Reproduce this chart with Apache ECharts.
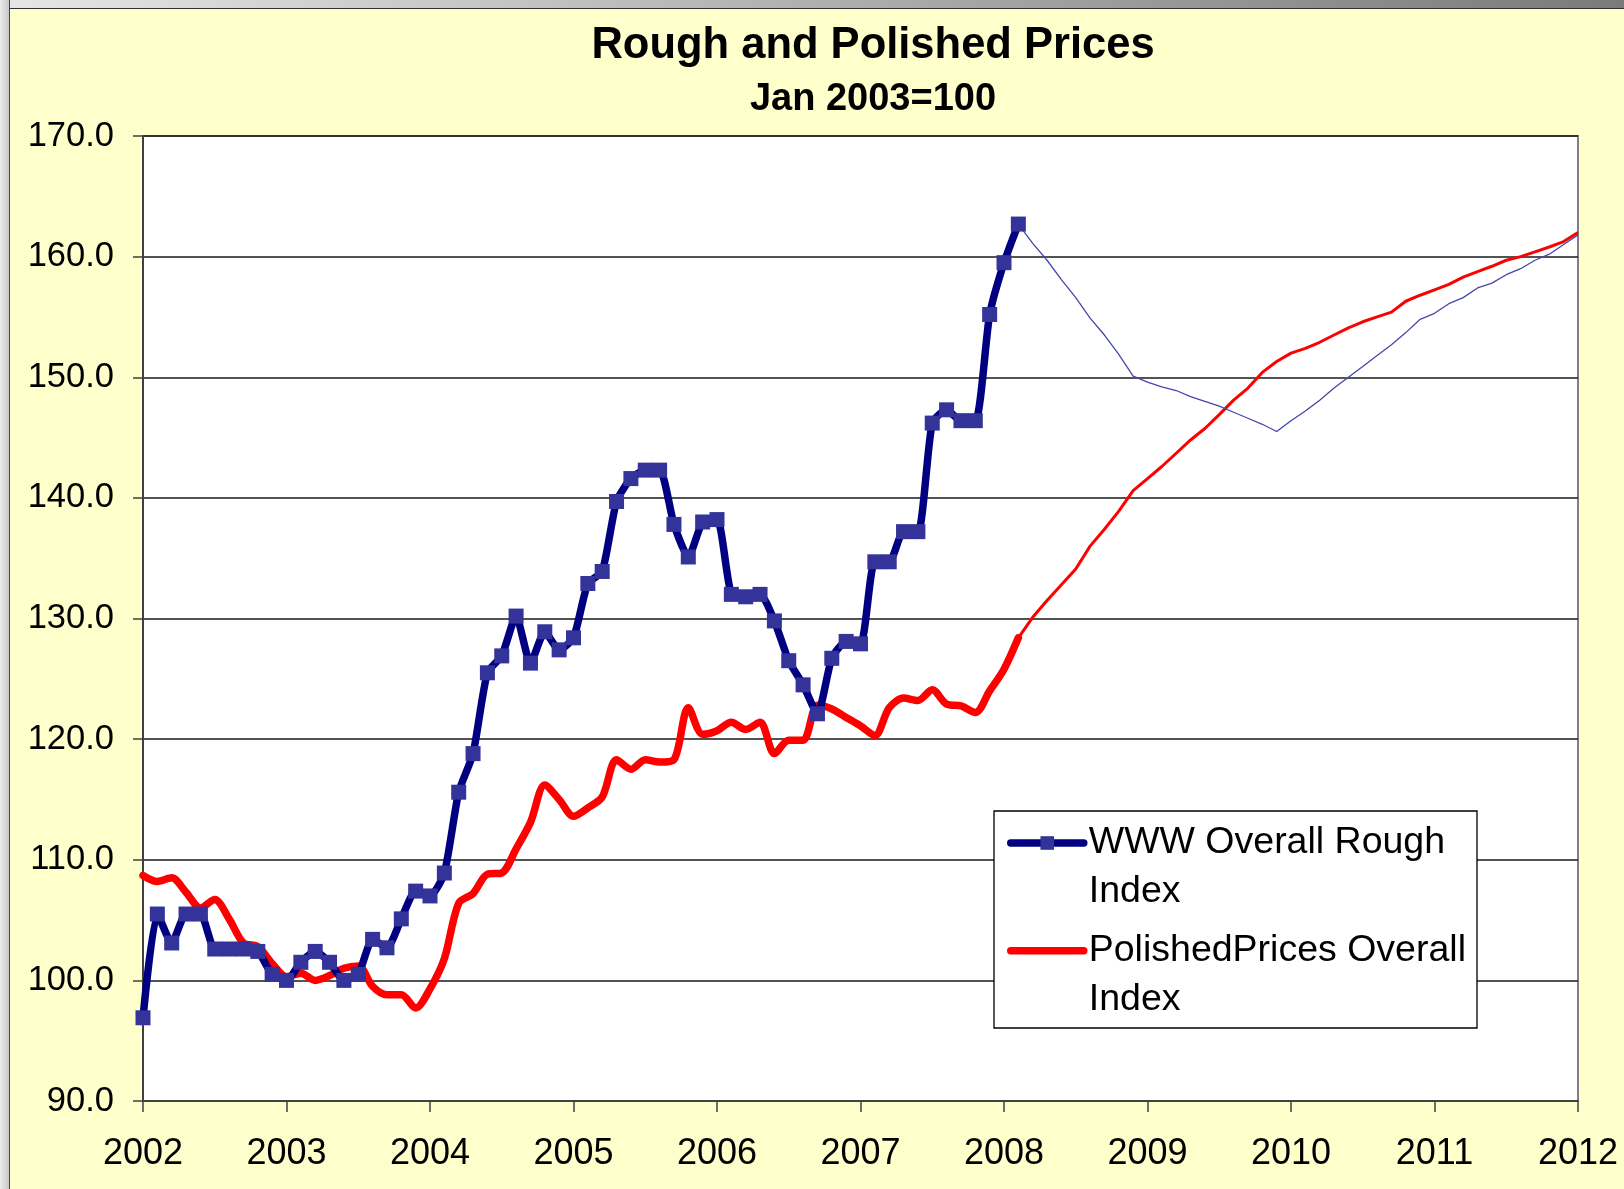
<!DOCTYPE html>
<html>
<head>
<meta charset="utf-8">
<script src="https://cdn.jsdelivr.net/npm/echarts@6/dist/echarts.min.js"></script>
<style>
  html, body { margin: 0; padding: 0; background: #FFFFCC; }
  #chart { width: 1624px; height: 1189px; position: absolute; left: 0; top: 0; }
  #topbar { position: absolute; left: 0; top: 0; width: 1624px; height: 8px;
            background: linear-gradient(to right, #e6e6e6, #9a9a9a 70%, #7a7a7a);
            border-bottom: 1px solid #333; z-index: 5; }
  #leftbar { position: absolute; left: 0; top: 0; width: 9px; height: 1189px;
             background: linear-gradient(to right, #ececec, #c8c8c8);
             border-right: 1px solid #444; z-index: 5; }
</style>
</head>
<body>
<div id="chart"></div>
<div id="topbar"></div>
<div id="leftbar"></div>
<script>
// ---- Data ----
// Rough index: one value per De Beers sight (10 per year), starting Jan 2002
const roughStartYear = 2002;
const roughStep = 0.1;
const roughValues = [
  96.9, 105.5, 103.1, 105.5, 105.5, 102.6, 102.6, 102.6, 102.4, 100.5,
  100.0, 101.5, 102.4, 101.5, 100.0, 100.5, 103.4, 102.7, 105.1, 107.4,
  107.0, 108.9, 115.6, 118.8, 125.5, 126.9, 130.2, 126.3, 128.9, 127.4,
  128.4, 132.9, 133.9, 139.7, 141.6, 142.3, 142.3, 137.8, 135.1, 138.0,
  138.2, 132.0, 131.8, 132.0, 129.8, 126.5, 124.5, 122.1, 126.7, 128.1,
  127.9, 134.7, 134.7, 137.2, 137.2, 146.2, 147.3, 146.4, 146.4, 155.2,
  159.5, 162.7
];
const polishedValues = [
  108.7, 108.2, 108.5, 107.3, 106.0, 106.7, 105.1, 103.1, 102.8, 101.4,
  100.3, 100.6, 100.0, 100.4, 101.0, 101.2, 99.5, 98.8, 98.8, 97.7,
  99.3, 101.8, 106.4, 107.2, 108.8, 108.9, 110.9, 113.1, 116.2, 115.0,
  113.6, 114.3, 115.2, 118.3, 117.5, 118.3, 118.1, 118.3, 122.6, 120.4,
  120.7, 121.4, 120.8, 121.4, 118.8, 119.9, 119.9, 122.8, 122.5, 121.8,
  121.1, 120.3, 122.6, 123.4, 123.2, 124.1, 122.9, 122.75, 122.2, 124.0,
  125.8, 128.4
];
// Projection (thin lines), from Feb 2008 to 2012, same spacing
const forecastStartYear = 2008.1;
const roughForecast = [
  162.7, 161.1, 159.7, 158.1, 156.6, 154.9, 153.5, 151.9, 150.1, 149.6,
  149.2, 148.9, 148.4, 148.0, 147.6, 147.1, 146.6, 146.1, 145.5, 146.4,
  147.2, 148.1, 149.1, 150.0, 150.9, 151.8, 152.7, 153.7, 154.8, 155.3,
  156.1, 156.6, 157.4, 157.8, 158.5, 159.0, 159.7, 160.2, 161.0, 161.8
];
const polishedForecast = [
  128.4, 130.1, 131.5, 132.8, 134.1, 136.0, 137.4, 138.9, 140.6, 141.6,
  142.6, 143.7, 144.8, 145.75, 146.9, 148.1, 149.1, 150.4, 151.3, 152.0,
  152.4, 152.9, 153.5, 154.1, 154.6, 155.0, 155.4, 156.3, 156.8, 157.25,
  157.7, 158.3, 158.75, 159.2, 159.7, 160.0, 160.4, 160.8, 161.25, 162.0
];
const yearTicks = [2002, 2003, 2004, 2005, 2006, 2007, 2008, 2009, 2010, 2011, 2012];
const roughName = 'WWW Overall Rough Index';
const polishedName = 'PolishedPrices Overall Index';
const legendLabels = {};
legendLabels[roughName] = 'WWW Overall Rough\nIndex';
legendLabels[polishedName] = 'PolishedPrices Overall\nIndex';

function toPairs(start, step, vals) {
  return vals.map((v, i) => [+(start + i * step).toFixed(4), v]);
}

const FONT = '"Liberation Sans", Arial, sans-serif';
const chart = echarts.init(document.getElementById('chart'), null, { renderer: 'canvas' });

const LH = 48.5;
chart.setOption({
  animation: false,
  backgroundColor: '#FFFFCC',
  title: [
    { text: 'Rough and Polished Prices', left: 868, top: 19, textAlign: 'center',
      textStyle: { fontFamily: FONT, fontSize: 43.5, fontWeight: 'bold', color: '#000' } },
    { text: 'Jan 2003=100', left: 868, top: 76, textAlign: 'center',
      textStyle: { fontFamily: FONT, fontSize: 38, fontWeight: 'bold', color: '#000' } }
  ],
  grid: {
    left: 143, top: 136, right: 46, bottom: 88,
    show: true, backgroundColor: '#ffffff', borderColor: '#808080', borderWidth: 2
  },
  xAxis: {
    type: 'value', min: 2002, max: 2012, interval: 1,
    axisLine: { show: true, lineStyle: { color: '#404040', width: 2 } },
    axisTick: { show: true, inside: false, length: 11, lineStyle: { color: '#404040', width: 1.5 } },
    axisLabel: { margin: 35, fontFamily: FONT, fontSize: 36, color: '#000',
      formatter: v => (yearTicks.indexOf(v) >= 0 ? String(v) : '') },
    splitLine: { show: false }
  },
  yAxis: {
    type: 'value', min: 90, max: 170, interval: 10,
    axisLine: { show: true, lineStyle: { color: '#404040', width: 2 } },
    axisTick: { show: true, inside: false, length: 10, lineStyle: { color: '#404040', width: 1.5 } },
    axisLabel: { margin: 29, fontFamily: FONT, fontSize: 34.5, color: '#000',
      formatter: v => v.toFixed(1) },
    splitLine: { show: true, lineStyle: { color: '#1a1a1a', width: 1.5 } }
  },
  legend: {
    orient: 'vertical', left: 1007, top: 840 - 1.5 * LH + 3, padding: 0,
    itemWidth: 73, itemHeight: 17, itemGap: 107.7 - 3 * LH,
    data: [
      { name: roughName, itemStyle: { color: '#333399' } },
      { name: polishedName, itemStyle: { opacity: 0 } }
    ],
    lineStyle: { width: 7.5, cap: 'round' },
    formatter: n => '\n' + legendLabels[n],
    textStyle: { fontFamily: FONT, fontSize: 37.5, lineHeight: LH, color: '#000' }
  },
  graphic: [
    { type: 'rect', z: 3, shape: { x: 994, y: 811, width: 483, height: 217 },
      style: { fill: '#ffffff', stroke: '#000000', lineWidth: 1.3 } }
  ],
  series: [
    { name: polishedName, type: 'line', z: 2,
      data: toPairs(roughStartYear, roughStep, polishedValues),
      smooth: 0.3, symbol: 'none',
      lineStyle: { color: '#FF0000', width: 7.5, cap: 'round', join: 'round' },
      itemStyle: { color: '#FF0000' } },
    { name: 'polishedForecast', type: 'line', z: 2,
      data: toPairs(forecastStartYear, roughStep, polishedForecast),
      smooth: false, symbol: 'none',
      lineStyle: { color: '#FF0000', width: 3 } },
    { name: 'roughForecast', type: 'line', z: 2,
      data: toPairs(forecastStartYear, roughStep, roughForecast),
      smooth: false, symbol: 'none',
      lineStyle: { color: '#4646a8', width: 1.3 } },
    { name: roughName, type: 'line', z: 2.5,
      data: toPairs(roughStartYear, roughStep, roughValues),
      smooth: 0.2, symbol: 'rect', symbolSize: 15, showAllSymbol: true,
      lineStyle: { color: '#000080', width: 7.5, cap: 'round', join: 'round' },
      itemStyle: { color: '#333399' } }
  ]
});
</script>
</body>
</html>
